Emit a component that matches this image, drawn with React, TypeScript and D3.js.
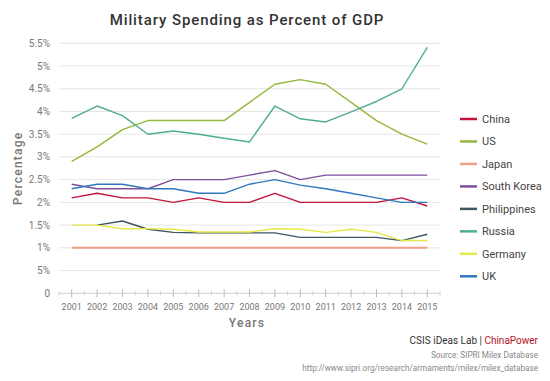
import React from "react";
import * as d3 from "d3";

const years = ["2001","2002","2003","2004","2005","2006","2007","2008","2009","2010","2011","2012","2013","2014","2015"];
const china = [2.1, 2.2, 2.1, 2.1, 2.0, 2.1, 2.0, 2.0, 2.2, 2.0, 2.0, 2.0, 2.0, 2.1, 1.92];
const us = [2.9, 3.22, 3.6, 3.8, 3.8, 3.8, 3.8, 4.2, 4.6, 4.7, 4.6, 4.2, 3.8, 3.5, 3.28];
const japan = [1.0, 1.0, 1.0, 1.0, 1.0, 1.0, 1.0, 1.0, 1.0, 1.0, 1.0, 1.0, 1.0, 1.0, 1.0];
const southKorea = [2.4, 2.3, 2.3, 2.3, 2.5, 2.5, 2.5, 2.6, 2.7, 2.5, 2.6, 2.6, 2.6, 2.6, 2.6];
const philippines = [null, 1.5, 1.59, 1.41, 1.34, 1.33, 1.33, 1.33, 1.33, 1.23, 1.23, 1.23, 1.23, 1.16, 1.3];
const russia = [3.85, 4.12, 3.91, 3.5, 3.57, 3.5, 3.41, 3.33, 4.12, 3.84, 3.77, 3.99, 4.22, 4.5, 5.41];
const germany = [1.5, 1.5, 1.42, 1.42, 1.41, 1.35, 1.35, 1.35, 1.42, 1.41, 1.34, 1.41, 1.34, 1.16, 1.16];
const uk = [2.3, 2.4, 2.4, 2.3, 2.3, 2.2, 2.2, 2.4, 2.5, 2.38, 2.3, 2.2, 2.1, 2.0, 2.0];

const seriesNames = ["China", "US", "Japan", "South Korea", "Philippines", "Russia", "Germany", "UK"];
const seriesValues = [china, us, japan, southKorea, philippines, russia, germany, uk];
const seriesColors = ["#c3153c", "#93b83b", "#ee9f86", "#7e4f9e", "#3c5664", "#4fae8f", "#e6e84a", "#2f78bd"];

const yTicks = [0, 0.5, 1, 1.5, 2, 2.5, 3, 3.5, 4, 4.5, 5, 5.5];
const yTickLabels = ["0", "5%", "1%", "1.5%", "2%", "2.5%", "3%", "3.5%", "4%", "4.5%", "5%", "5.5%"];

export default function App() {
  const W = 550, H = 381;
  const left = 59, right = 440, top = 43.3, bottom = 293.3;
  const x = d3.scaleBand<string>().domain(years).range([left, right]).padding(0);
  const cx = (yr: string) => (x(yr) as number) + x.bandwidth() / 2;
  const y = d3.scaleLinear().domain([0, 5.5]).range([bottom, top]);
  const font = "Roboto, 'Noto Sans', sans-serif";

  const line = d3.line<number | null>()
    .defined((d) => d !== null)
    .x((_, i) => cx(years[i]))
    .y((d) => y(d as number));

  const legendY = d3.scalePoint<string>().domain(seriesNames).range([119, 276.3]);

  return (
    <svg width={W} height={H} style={{ position: "absolute", left: 0, top: 0, fontFamily: font }}>
      <rect width={W} height={H} fill="#fff" />
      <text x={247} y={25} textAnchor="middle" fontSize={15} fontWeight={500} fill="#333" letterSpacing={0.9}>
        Military Spending as Percent of GDP
      </text>
      {yTicks.map((t, i) => (
        <g key={t}>
          {t > 0 && <line x1={left} x2={right} y1={y(t)} y2={y(t)} stroke="#e6e6e6" strokeWidth={1} />}
          <text x={50} y={y(t) + 3.5} textAnchor="end" fontSize={10} fill="#777">{yTickLabels[i]}</text>
        </g>
      ))}
      <line x1={left} x2={right} y1={bottom} y2={bottom} stroke="#d0d0d0" strokeWidth={1} />
      {years.map((yr) => (
        <g key={yr}>
          <line x1={cx(yr)} x2={cx(yr)} y1={bottom - 4} y2={bottom + 4} stroke="#bbb" />
          <line x1={x(yr) as number} x2={x(yr) as number} y1={bottom - 2} y2={bottom + 2} stroke="#ccc" />
          <text x={cx(yr)} y={310} textAnchor="middle" fontSize={9} fill="#777">{yr}</text>
        </g>
      ))}
      <line x1={right} x2={right} y1={bottom - 2} y2={bottom + 2} stroke="#ccc" />
      {seriesValues.map((vals, i) => (
        <path key={seriesNames[i]} d={line(vals) || ""} fill="none" stroke={seriesColors[i]}
          strokeWidth={i === 2 ? 2 : 1.4} strokeLinejoin="round" />
      ))}
      <text transform={`translate(22,${(top + bottom) / 2}) rotate(-90)`} textAnchor="middle"
        fontSize={12} fontWeight={500} fill="#777" letterSpacing={1.2}>Percentage</text>
      <text x={247} y={327} textAnchor="middle" fontSize={12} fontWeight={500} fill="#777" letterSpacing={1.2}>Years</text>
      {seriesNames.map((n, i) => (
        <g key={n}>
          <line x1={460} x2={477} y1={legendY(n)} y2={legendY(n)} stroke={seriesColors[i]} strokeWidth={2.5} />
          <text x={482} y={(legendY(n) as number) + 4} fontSize={11} fill="#444">{n}</text>
        </g>
      ))}
      <text x={538} y={344} textAnchor="end" fontSize={10} fill="#333">
        CSIS iDeas Lab | <tspan fill="#b5121b">ChinaPower</tspan>
      </text>
      <text x={538} y={358} textAnchor="end" fontSize={8.2} fill="#888">Source:  SIPRI Milex Database</text>
      <text x={538} y={371} textAnchor="end" fontSize={8.2} fill="#888">http://www.sipri.org/research/armaments/milex/milex_database</text>
    </svg>
  );
}
